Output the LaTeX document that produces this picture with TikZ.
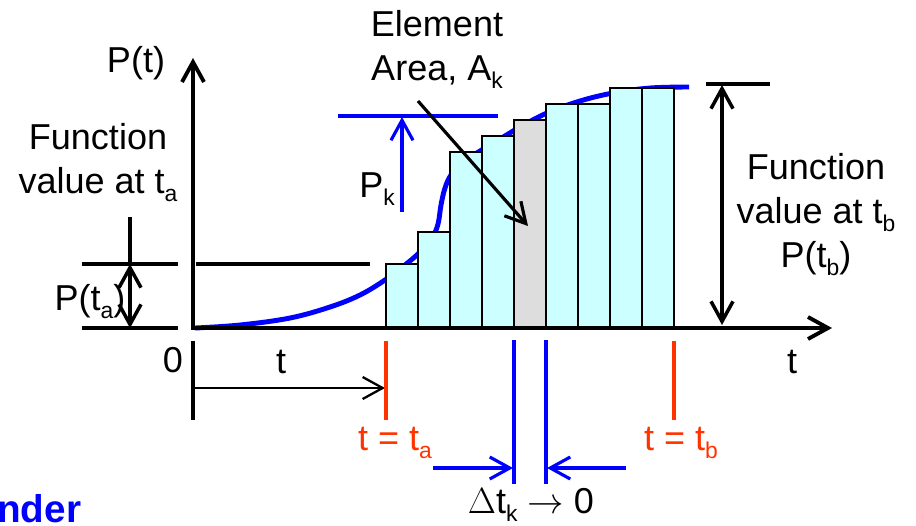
\documentclass[tikz,border=0pt]{standalone}
\usepackage{fontspec}
\setmainfont{Liberation Sans}
\usetikzlibrary{arrows.meta,positioning}
\definecolor{barcyan}{RGB}{204,255,255}
\definecolor{bargray}{RGB}{221,221,221}
\definecolor{tickred}{RGB}{255,51,0}
\newcommand{\lowsub}[1]{\raisebox{-0.45ex}{\fontsize{13}{13}\selectfont #1}}

\begin{document}
\begin{tikzpicture}[
  x=0.02cm,y=-0.02cm,
  font=\fontsize{20.5}{25}\selectfont,
  lbl/.style={inner sep=0pt,anchor=base,align=center},
  bar/.style={draw,line width=1.1pt},
  tip/.style={-{Straight Barb[length=4mm,width=4.4mm]}},
  twotip/.style={{Straight Barb[length=4mm,width=4.4mm]}-{Straight Barb[length=4mm,width=4.4mm]}},
  every path/.style={line cap=butt}
]
\useasboundingbox (0,0) rectangle (916,525);

% labels (base = last line)
\node[lbl] (pt) at (136,72) {P(t)};
\node[lbl] (fa) at (98,193) {Function\\value at t\lowsub{a}};
\node[lbl] (elem) at (437,80) {Element\\Area, A\lowsub{k}};
\node[lbl] (pk) at (377,197) {P\lowsub{k}};
\node[lbl] (pta) at (90,310) {P(t\lowsub{a})};
\node[lbl] (zero) at (173,372) {0};
\node[lbl] (tlab) at (281,373) {t};
\node[lbl,text=tickred] (teqa) at (395,450) {t = t\lowsub{a}};
\node[lbl,text=tickred] (teqb) at (681,450) {t = t\lowsub{b}};
\node[lbl] (dtk) at (531,513) {$\Delta$t\lowsub{k} $\rightarrow$ 0};
\node[lbl] (taxis) at (792,373) {t};
\node[lbl] (fb) at (816,267) {Function\\value at t\lowsub{b}\\P(t\lowsub{b})};
\node[anchor=base west,inner sep=0pt,text=blue,
      font=\fontsize{22}{22}\selectfont\bfseries] (rem) at (-3,522) {nder};

% curve P(t), behind the bars
\draw[blue,line width=2.8pt] plot[smooth,tension=0.6] coordinates {
  (195,328) (240,325) (290,318) (330,307) (360,295) (385,280) (405,265)
  (420,252) (432,238) (438,224) (441,205) (445,188) (451,175) (462,163)
  (480,151) (500,139) (520,127) (547,113) (580,101) (613,93) (650,88) (689,87)};

% element strips
\foreach \h/\c [count=\i from 0] in {264/barcyan,232/barcyan,152/barcyan,136/barcyan,
    120/bargray,104/barcyan,104/barcyan,88/barcyan,88/barcyan}
  \draw[bar,fill=\c] ({386+32*\i},328) rectangle ({418+32*\i},\h);

% axes
\coordinate (ytip) at (193,58);
\coordinate (o) at (193,328);
\coordinate (xtip) at (832,328);
\draw[twotip,line width=2.2pt,line join=miter] (ytip) -- (o) -- (xtip);

% value at t_a
\draw[line width=2.2pt] (82,264) -- (178,264) (196,264) -- (370,264);
\draw[line width=2.2pt] (82,328) -- (178,328);
\coordinate (pa1) at (130,264);
\coordinate (pa0) at (130,328);
\draw[line width=2pt] (130,217) -- (pa1);
\draw[twotip,line width=2pt] (pa1) -- (pa0);

% value at t_b
\draw[line width=2pt] (706,84) -- (770,84);
\coordinate (pb1) at (722,85);
\coordinate (pb0) at (722,325);
\draw[twotip,line width=2pt] (pb1) -- (pb0);

% P_k
\draw[blue,line width=1.8pt] (338,116) -- (498,116);
\coordinate (pkbot) at (402,212);
\coordinate (pktop) at (402,117);
\draw[blue,tip,line width=1.8pt] (pkbot) -- (pktop);

% element area pointer
\coordinate (ea0) at (418,101);
\coordinate (ea1) at (528,226);
\draw[tip,line width=1.8pt] (ea0) -- (ea1);

% t from 0 to t_a
\draw[line width=1.8pt] (193,341) -- (193,420);
\coordinate (t0) at (193,388);
\coordinate (t1) at (385,388);
\draw[tip,line width=1.3pt] (t0) -- (t1);

% t_a and t_b marks
\draw[tickred,line width=1.8pt] (386,341) -- (386,420);
\draw[tickred,line width=1.8pt] (674,341) -- (674,420);

% delta t_k
\draw[blue,line width=1.8pt] (514,340) -- (514,484);
\draw[blue,line width=1.8pt] (546,340) -- (546,484);
\coordinate (dl0) at (433,468);
\coordinate (dl1) at (513,468);
\coordinate (dr0) at (626,468);
\coordinate (dr1) at (547,468);
\draw[blue,tip,line width=1.8pt] (dl0) -- (dl1);
\draw[blue,tip,line width=1.8pt] (dr0) -- (dr1);
\end{tikzpicture}
\end{document}
